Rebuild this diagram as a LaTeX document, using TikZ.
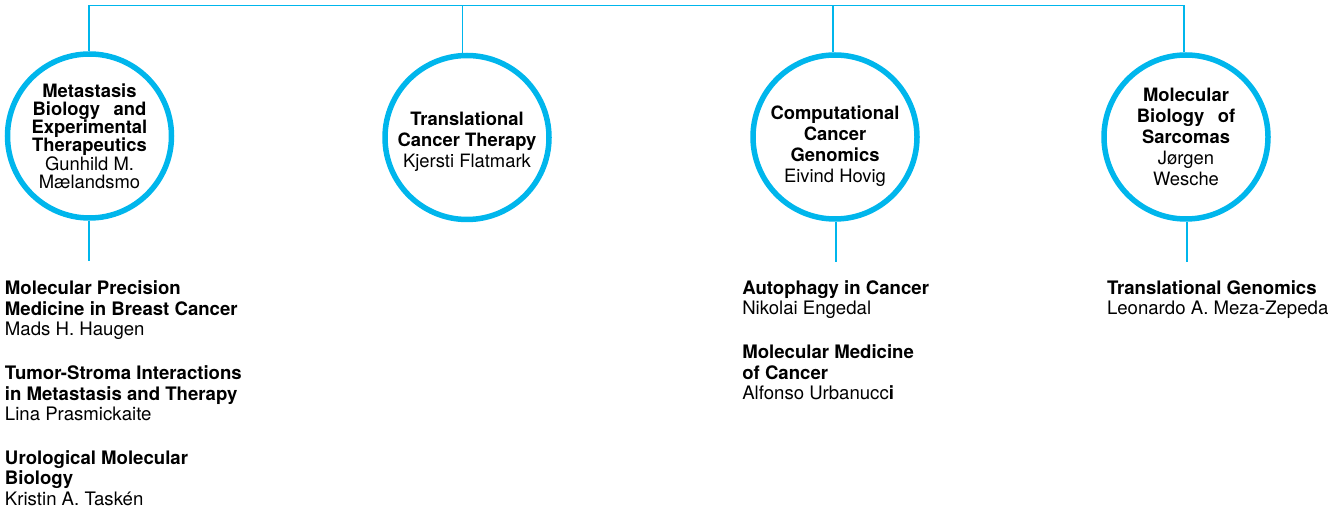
\documentclass[tikz,border=0pt]{standalone}
\usepackage{fontspec}
\setmainfont{TeX Gyre Heros}
\definecolor{oucyan}{RGB}{0,182,236}
\begin{document}
\begin{tikzpicture}[x=1pt,y=-1pt,
  conn/.style={draw=oucyan,line width=1.3pt},
  ring/.style={circle,draw=oucyan,line width=5.5pt,minimum size=164pt,inner sep=0pt,align=center,text=black},
  ringone/.style={ring,font=\fontsize{18.4}{18.2}\selectfont},
  ringtwo/.style={ring,font=\fontsize{18.4}{20.8}\selectfont},
  group/.style={anchor=base west,align=left,inner sep=0pt,outer sep=0pt,font=\fontsize{18.6}{20.7}\selectfont}]
\useasboundingbox (0,0) rectangle (1341,510);
% top coordinates
\coordinate (t1) at (89,5.3);
\coordinate (t2) at (462.3,5.3);
\coordinate (t3) at (833,5.3);
\coordinate (t4) at (1184,5.3);
% circles
\node[ringone] (c1) at (89.5,136) {\textbf{Metastasis}\\\textbf{Biology\hspace{0.45em} and}\\\textbf{Experimental}\\\textbf{Therapeutics}\\Gunhild M.\\Mælandsmo};
\node[ringtwo] (c2) at (467,137.5) {\rule{0pt}{22pt}\textbf{Translational}\\\textbf{Cancer Therapy}\\Kjersti Flatmark};
\node[ringtwo] (c3) at (835,137) {\rule{0pt}{32pt}\textbf{Computational}\\\textbf{Cancer}\\\textbf{Genomics}\\Eivind Hovig};
\node[ringtwo] (c4) at (1186,137) {\textbf{Molecular}\\\textbf{Biology\hspace{0.45em} of}\\\textbf{Sarcomas}\\Jørgen\\Wesche};
% bottom coordinates
\coordinate (b1) at (89,261);
\coordinate (b3) at (836,262);
\coordinate (b4) at (1187,262);
% connectors
\draw[conn] (t1) -- (t4);
\draw[conn] (t1) -- (t1 |- c1.north);
\draw[conn] (t2) -- (t2 |- c2.north);
\draw[conn] (t3) -- (t3 |- c3.north);
\draw[conn] (t4) -- (t4 |- c4.north);
\draw[conn] (b1 |- c1.south) -- (b1);
\draw[conn] (b3 |- c3.south) -- (b3);
\draw[conn] (b4 |- c4.south) -- (b4);
% groups (anchor at the baseline of the last line)
\node[group] (g1a) at (5,335.8) {\textbf{Molecular Precision}\\\textbf{Medicine in Breast Cancer}\\Mads H. Haugen};
\node[group] (g1b) at (5,420.8) {\textbf{Tumor-Stroma Interactions}\\\textbf{in Metastasis and Therapy}\\Lina Prasmickaite};
\node[group] (g1c) at (5,505.6) {\textbf{Urological Molecular}\\\textbf{Biology}\\Kristin A. Taskén};
\node[group] (g3a) at (742.3,315) {\textbf{Autophagy in Cancer}\\Nikolai Engedal};
\node[group] (g3b) at (742.3,399.8) {\textbf{Molecular Medicine}\\\textbf{of Cancer}\\Alfonso Urbanucc\textbf{i}};
\node[group] (g4a) at (1107,314.8) {\textbf{Translational Genomics}\\Leonardo A. Meza-Zepeda};
\end{tikzpicture}
\end{document}
